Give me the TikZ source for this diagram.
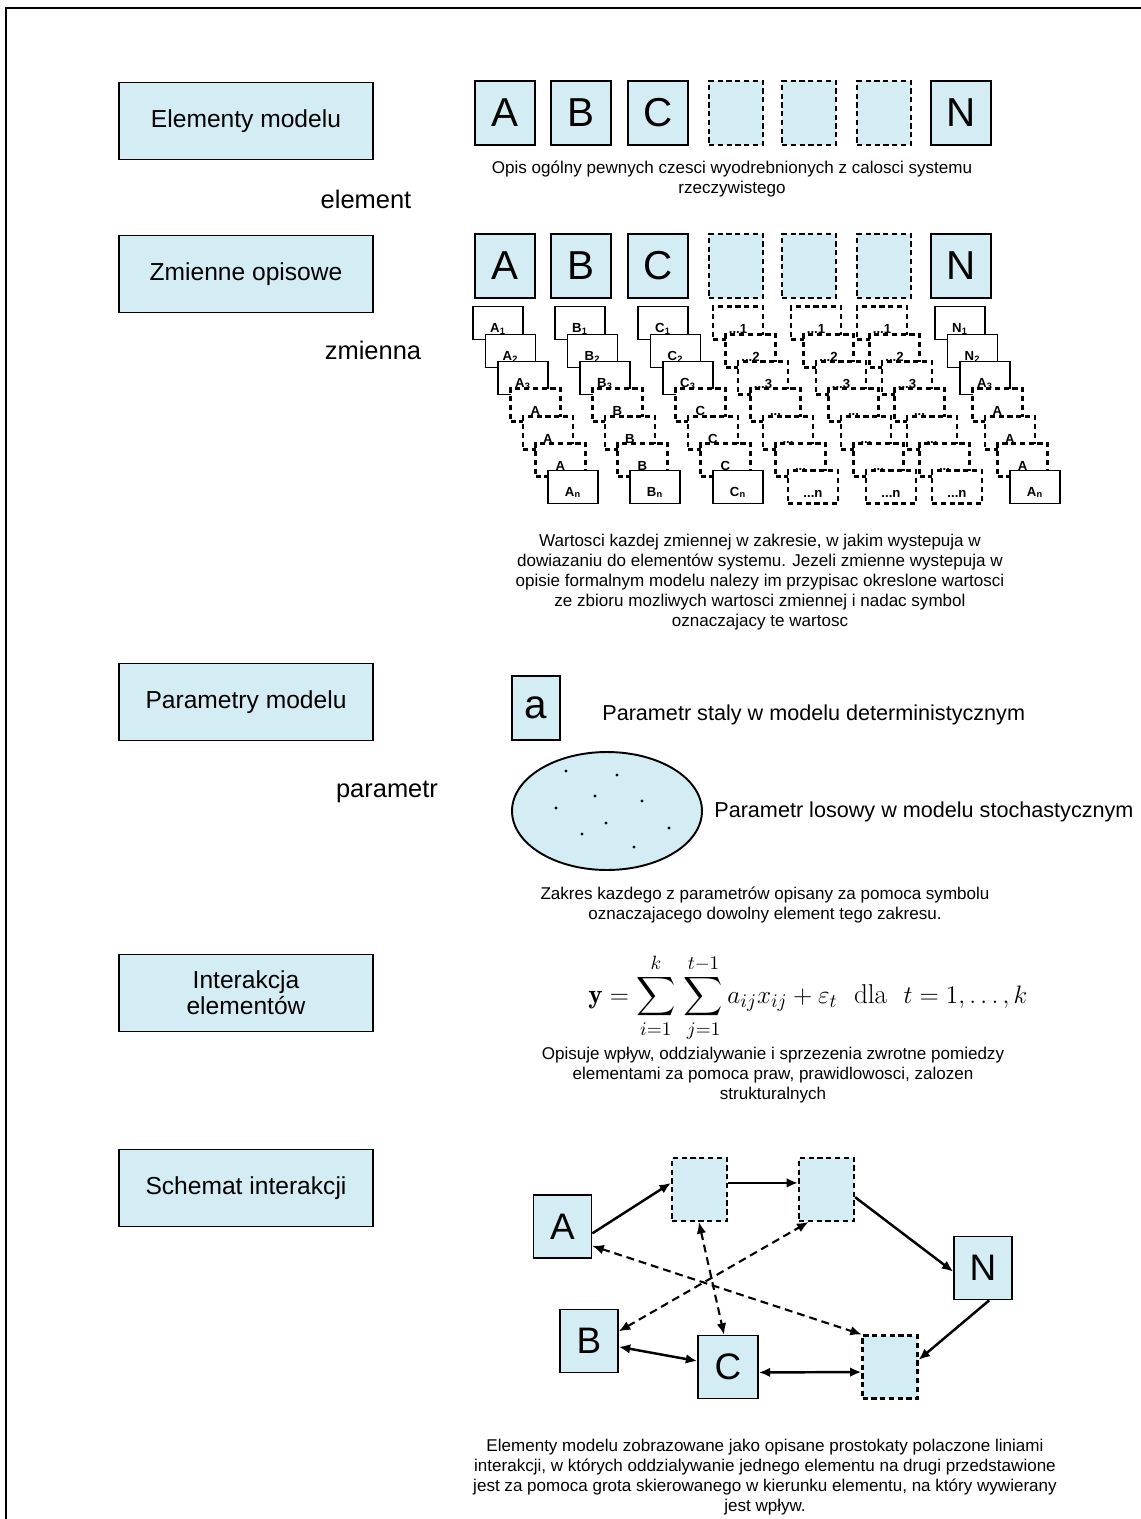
\documentclass[tikz,border=0pt]{standalone}
\usepackage{amsmath,amssymb}
\usepackage{fontspec}
\setsansfont{Liberation Sans}
\usepackage{xcolor}
\usepackage{tikz}
\usetikzlibrary{shapes,arrows.meta,positioning}
\definecolor{blekit}{RGB}{212,236,244}
\tikzset{opis/.style={draw,fill=blekit,line width=0.9pt,minimum width=5.08cm,minimum height=1.54cm,align=center,font=\sffamily\fontsize{14}{15}\selectfont}}
\tikzset{elem/.style={draw,fill=blekit,line width=0.9pt,minimum width=1.2cm,minimum height=1.28cm,inner sep=0pt,font=\sffamily\fontsize{23}{23}\selectfont}}
\tikzset{elemd/.style={elem,minimum width=1.08cm,line width=1.2pt,dash pattern=on 3pt off 2pt}}
\tikzset{schem/.style={elem,minimum width=1.16cm,minimum height=1.26cm,font=\sffamily\fontsize{21}{21}\selectfont}}
\tikzset{schemd/.style={schem,minimum width=1.1cm,line width=1.2pt,dash pattern=on 3pt off 2pt}}
\tikzset{zm/.style={draw,fill=white,line width=0.8pt,minimum width=1cm,minimum height=0.66cm,inner sep=0pt,text height=0.36cm,text depth=0pt,font=\sffamily\bfseries\fontsize{7.5}{8}\selectfont}}
\tikzset{zmd/.style={zm,line width=1.2pt,dash pattern=on 3pt off 2pt,text height=0.41cm}}
\tikzset{napis/.style={inner sep=0pt,font=\sffamily\fontsize{14.5}{17}\selectfont}}
\tikzset{parm/.style={inner sep=0pt,anchor=west,font=\sffamily\fontsize{12.3}{14}\selectfont}}
\tikzset{tekst/.style={inner sep=0pt,align=center,font=\sffamily\fontsize{9.7}{11.4}\selectfont}}
\tikzset{strz/.style={->,line width=1.4pt}}
\tikzset{strz2/.style={<->,line width=1.4pt}}
\tikzset{strzd/.style={<->,line width=1.2pt,dash pattern=on 4.5pt off 2.8pt}}

\begin{document}
\begin{tikzpicture}[x=0.02cm,y=-0.02cm,>={Latex[length=6.5pt,width=5.5pt]}]
    \useasboundingbox (0,0) rectangle (1141,1519);
    \draw [line width=1.4pt] (6,1519) -- (6,8) -- (1141,8);

    % opisy z lewej
    \node[opis] (o1)at (246,121) {Elementy modelu};
    \node[opis] (o2)at (246,274) {Zmienne opisowe};
    \node[opis] (o3)at (246,702) {Parametry modelu};
    \node[opis] (o4)at (246,993) {Interakcja\\elementów};
    \node[opis] (o5)at (246,1188) {Schemat interakcji};
    \node[napis] (n1)at (366,199) {element};
    \node[napis] (n2)at (373,350) {zmienna};
    \node[napis] (n3)at (387,792) {parametr};

    % elementy
    \node[elem] (e1A)at (505,113) {A};
    \node[elem] (e1B)at (581,113) {B};
    \node[elem] (e1C)at (658,113) {C};
    \node[elemd] (e1D)at (736,113) {};
    \node[elemd] (e1E)at (809,113) {};
    \node[elemd] (e1F)at (884,113) {};
    \node[elem] (e1N)at (961,113) {N};
    \node[tekst] (t1)at (732,179) {Opis ogólny pewnych czesci wyodrebnionych z calosci systemu\\rzeczywistego};

    % zmienne
    \node[elem] (e2A)at (505,266) {A};
    \node[elem] (e2B)at (581,266) {B};
    \node[elem] (e2C)at (658,266) {C};
    \node[elemd] (e2D)at (736,266) {};
    \node[elemd] (e2E)at (809,266) {};
    \node[elemd] (e2F)at (884,266) {};
    \node[elem] (e2N)at (961,266) {N};

    \node[zm] (zA1)at (498,323) {A\textsubscript{1}};
    \node[zm] (zA2)at (510.5,351) {A\textsubscript{2}};
    \node[zm] (zA3)at (523,378) {A\textsubscript{3}};
    \node[zmd] (zA4)at (535.5,405) {A};
    \node[zmd] (zA5)at (548,433) {A};
    \node[zmd] (zA6)at (560.5,460) {A};
    \node[zm] (zA7)at (573,487) {A\textsubscript{n}};

    \node[zm] (zB1)at (580,323) {B\textsubscript{1}};
    \node[zm] (zB2)at (592.5,351) {B\textsubscript{2}};
    \node[zm] (zB3)at (605,378) {B\textsubscript{3}};
    \node[zmd] (zB4)at (617.5,405) {B};
    \node[zmd] (zB5)at (630,433) {B};
    \node[zmd] (zB6)at (642.5,460) {B};
    \node[zm] (zB7)at (655,487) {B\textsubscript{n}};

    \node[zm] (zC1)at (663,323) {C\textsubscript{1}};
    \node[zm] (zC2)at (675.5,351) {C\textsubscript{2}};
    \node[zm] (zC3)at (688,378) {C\textsubscript{3}};
    \node[zmd] (zC4)at (700.5,405) {C};
    \node[zmd] (zC5)at (713,433) {C};
    \node[zmd] (zC6)at (725.5,460) {C};
    \node[zm] (zC7)at (738,487) {C\textsubscript{n}};

    \node[zmd] (zD1)at (738,323) {...1};
    \node[zmd] (zD2)at (750.5,351) {...2};
    \node[zmd] (zD3)at (763,378) {...3};
    \node[zmd] (zD4)at (775.5,405) {...};
    \node[zmd] (zD5)at (788,433) {...};
    \node[zmd] (zD6)at (800.5,460) {...};
    \node[zmd] (zD7)at (813,487) {...n};

    \node[zmd] (zE1)at (816,323) {...1};
    \node[zmd] (zE2)at (828.5,351) {...2};
    \node[zmd] (zE3)at (841,378) {...3};
    \node[zmd] (zE4)at (853.5,405) {...};
    \node[zmd] (zE5)at (866,433) {...};
    \node[zmd] (zE6)at (878.5,460) {...};
    \node[zmd] (zE7)at (891,487) {...n};

    \node[zmd] (zF1)at (882,323) {...1};
    \node[zmd] (zF2)at (894.5,351) {...2};
    \node[zmd] (zF3)at (907,378) {...3};
    \node[zmd] (zF4)at (919.5,405) {...};
    \node[zmd] (zF5)at (932,433) {...};
    \node[zmd] (zF6)at (944.5,460) {...};
    \node[zmd] (zF7)at (957,487) {...n};

    \node[zm] (zN1)at (960,323) {N\textsubscript{1}};
    \node[zm] (zN2)at (972.5,351) {N\textsubscript{2}};
    \node[zm] (zN3)at (985,378) {A\textsubscript{3}};
    \node[zmd] (zN4)at (997.5,405) {A};
    \node[zmd] (zN5)at (1010,433) {A};
    \node[zmd] (zN6)at (1022.5,460) {A};
    \node[zm] (zN7)at (1035,487) {A\textsubscript{n}};

    \node[tekst] (t2)at (760,582) {Wartosci kazdej zmiennej w zakresie, w jakim wystepuja w\\dowiazaniu do elementów systemu. Jezeli zmienne wystepuja w\\opisie formalnym modelu nalezy im przypisac okreslone wartosci\\ze zbioru mozliwych wartosci zmiennej i nadac symbol\\oznaczajacy te wartosc};

    % parametry
    \node[elem,minimum width=0.96cm] (pa)at (536,708) {a};
    \node[parm] (ps)at (602,715) {Parametr staly w modelu deterministycznym};
    \node[draw,ellipse,fill=blekit,line width=1.1pt,minimum width=3.8cm,minimum height=2.36cm] (pe)at (607,811) {};
    \fill (566,771) circle [radius=0.9pt];
    \fill (617,775) circle [radius=0.9pt];
    \fill (595,796) circle [radius=0.9pt];
    \fill (642,801) circle [radius=0.9pt];
    \fill (556,808) circle [radius=0.9pt];
    \fill (606,823) circle [radius=0.9pt];
    \fill (669,828) circle [radius=0.9pt];
    \fill (582,834) circle [radius=0.9pt];
    \fill (634,847) circle [radius=0.9pt];
    \node[parm] (pl)at (714,812) {Parametr losowy w modelu stochastycznym};
    \node[tekst] (t3)at (765,905) {Zakres kazdego z parametrów opisany za pomoca symbolu\\oznaczajacego dowolny element tego zakresu.};

    % interakcja
    \node[inner sep=0pt,font=\fontsize{15.5}{18}\selectfont] (wz)at (808,998) {$\displaystyle\mathbf{y}=\sum_{i=1}^{k}\,\sum_{j=1}^{t-1}a_{ij}x_{ij}+\varepsilon_t\ \ \mathrm{dla}\ \ t=1,\ldots,k$};
    \node[tekst] (t4)at (773,1075) {Opisuje wpływ, oddzialywanie i sprzezenia zwrotne pomiedzy\\elementami za pomoca praw, prawidlowosci, zalozen\\strukturalnych};

    % schemat
    \node[schem] (sA)at (562.5,1226.5) {A};
    \node[schemd] (sT1)at (699.5,1189.5) {};
    \node[schemd] (sT2)at (826.5,1189.5) {};
    \node[schem] (sN)at (983,1268) {N};
    \node[schem] (sB)at (589,1341) {B};
    \node[schem,minimum width=1.2cm] (sC)at (728,1367) {C};
    \node[schemd] (sD)at (890,1367) {};

    \draw [strz] (sA.-13) to [] (sT1.167);
    \draw [strz] (sT1.13) to [] (sT2.167);
    \draw [strz] (sT2.-15) to [] (sN.187);
    \draw [strz] (sN.-79) to [] (sD.14);
    \draw [strz2] (sC.-10) to [] (sD.190);
    \draw [strz2] (sB.-11) to [] (sC.169);
    \draw [strzd] (sA.-33) to [] (sD.131);
    \draw [strzd] (sB.18) to [] (sT2.-119);
    \draw [strzd] (sT1.-91) to [] (sC.97);

    \node[tekst] (t5)at (765,1477) {Elementy modelu zobrazowane jako opisane prostokaty polaczone liniami\\interakcji, w których oddzialywanie jednego elementu na drugi przedstawione\\jest za pomoca grota skierowanego w kierunku elementu, na który wywierany\\jest wpływ.};
\end{tikzpicture}
\end{document}
